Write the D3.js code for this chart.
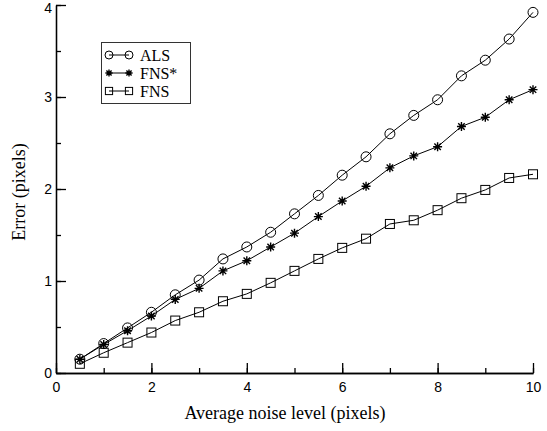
<!DOCTYPE html>
<html>
<head>
<meta charset="utf-8">
<script src="https://cdn.jsdelivr.net/npm/d3@7"></script>
<style>
  body { margin: 0; background: #fff; }
  svg { display: block; }
  .tick text { font-family: "Liberation Sans", Arial, sans-serif; font-size: 14px; }
</style>
</head>
<body>
<svg id="grafica"></svg>
<script>
// datos
let ruido = [0.5, 1, 1.5, 2, 2.5, 3, 3.5, 4, 4.5, 5, 5.5, 6, 6.5, 7, 7.5, 8, 8.5, 9, 9.5, 10]
let als = [0.15, 0.32, 0.49, 0.66, 0.85, 1.01, 1.24, 1.37, 1.53, 1.73, 1.93, 2.15, 2.35, 2.60, 2.80, 2.97, 3.23, 3.40, 3.63, 3.92]
let fnsEstrella = [0.15, 0.31, 0.46, 0.62, 0.80, 0.92, 1.11, 1.22, 1.37, 1.52, 1.70, 1.87, 2.03, 2.23, 2.36, 2.46, 2.68, 2.78, 2.97, 3.08]
let fns = [0.10, 0.22, 0.33, 0.44, 0.57, 0.66, 0.78, 0.86, 0.98, 1.11, 1.24, 1.36, 1.46, 1.62, 1.66, 1.77, 1.90, 1.99, 2.12, 2.16]

let series = ['ALS', 'FNS*', 'FNS']
let marcadores = ['circulo', 'estrella', 'cuadrado']
let ticksX = [0, 2, 4, 6, 8, 10]
let ticksY = [0, 1, 2, 3, 4]

const widthSVG = 547
const heightSVG = 431

let svg = d3.select('#grafica')
    .attr('width', widthSVG)
    .attr('height', heightSVG)

let xScale = d3.scaleLinear().domain([0, 10]).range([56, 533])
let yScale = d3.scaleLinear().domain([0, 4]).range([373, 5])

// ejes con ticks hacia adentro
let menoresX = d3.range(0, 10.01, 1)
let menoresY = d3.range(0, 4.01, 0.5)

svg.append('g')
   .attr('transform', 'translate(0,' + yScale(0) + ')')
   .call(d3.axisBottom(xScale).tickValues(menoresX).tickSize(-5).tickFormat('').tickSizeOuter(0))
svg.append('g')
   .attr('id', 'x-axis')
   .attr('transform', 'translate(0,' + yScale(0) + ')')
   .call(d3.axisBottom(xScale).tickValues(ticksX).tickSize(-10).tickSizeOuter(0).tickPadding(16).tickFormat(d3.format('d')))

svg.append('g')
   .attr('transform', 'translate(' + xScale(0) + ',0)')
   .call(d3.axisLeft(yScale).tickValues(menoresY).tickSize(-5).tickFormat('').tickSizeOuter(0))
svg.append('g')
   .attr('id', 'y-axis')
   .attr('transform', 'translate(' + xScale(0) + ',0)')
   .call(d3.axisLeft(yScale).tickValues(ticksY).tickSize(-10).tickSizeOuter(0).tickPadding(4).tickFormat(d3.format('d')))

svg.selectAll('.domain').attr('stroke', '#000').attr('stroke-width', 1.3)
svg.selectAll('.tick line').attr('stroke', '#000').attr('stroke-width', 1.3)
svg.select('#x-axis').selectAll('.tick text').attr('dy', '0.2em')
// la etiqueta de arriba baja un poco para no cortarse
svg.select('#y-axis').selectAll('.tick text').filter(d => d === 4).attr('dy', '0.5em')

// titulos
svg.append('text')
   .attr('x', 285).attr('y', 419)
   .attr('text-anchor', 'middle')
   .style('font-family', '"Liberation Serif", "Times New Roman", serif')
   .style('font-size', '18px')
   .text('Average noise level (pixels)')

svg.append('text')
   .attr('transform', 'translate(25,192) rotate(-90)')
   .attr('text-anchor', 'middle')
   .style('font-family', '"Liberation Serif", "Times New Roman", serif')
   .style('font-size', '18px')
   .text('Error (pixels)')

function dibujarMarcador(g, tipo, x, y, r) {
    if (tipo === 'circulo') {
        g.append('circle').attr('cx', x).attr('cy', y).attr('r', r)
         .attr('fill', 'none').attr('stroke', '#000').attr('stroke-width', 1)
    } else if (tipo === 'cuadrado') {
        g.append('rect').attr('x', x - r * 0.9).attr('y', y - r * 0.9).attr('width', r * 1.8).attr('height', r * 1.8)
         .attr('fill', 'none').attr('stroke', '#000').attr('stroke-width', 1)
    } else {
        let s = r * 0.9, d = s * 0.72
        g.append('path')
         .attr('d', 'M' + (x - s) + ',' + y + 'L' + (x + s) + ',' + y +
                    'M' + x + ',' + (y - s) + 'L' + x + ',' + (y + s) +
                    'M' + (x - d) + ',' + (y - d) + 'L' + (x + d) + ',' + (y + d) +
                    'M' + (x - d) + ',' + (y + d) + 'L' + (x + d) + ',' + (y - d))
         .attr('stroke', '#000').attr('stroke-width', 1.4)
    }
}

let datos = [als, fnsEstrella, fns]
let linea = d3.line().x((d, i) => xScale(ruido[i])).y(d => yScale(d))

datos.forEach((serie, k) => {
    let g = svg.append('g')
    g.append('path')
     .attr('d', linea(serie))
     .attr('fill', 'none')
     .attr('stroke', '#000')
     .attr('stroke-width', 1)
    serie.forEach((v, i) => dibujarMarcador(g, marcadores[k], xScale(ruido[i]), yScale(v), 5))
})

// leyenda
let leyenda = svg.append('g')
leyenda.append('rect')
   .attr('x', 101.5).attr('y', 42.5).attr('width', 89).attr('height', 61)
   .attr('fill', '#fff').attr('stroke', '#333').attr('stroke-width', 1)

series.forEach((nombre, k) => {
    let y = 55 + k * 18
    leyenda.append('line')
       .attr('x1', 109).attr('x2', 129).attr('y1', y).attr('y2', y)
       .attr('stroke', '#000').attr('stroke-width', 1)
    dibujarMarcador(leyenda, marcadores[k], 109, y, 4)
    dibujarMarcador(leyenda, marcadores[k], 129, y, 4)
    leyenda.append('text')
       .attr('x', 140).attr('y', y + 5.5)
       .style('font-family', '"Liberation Serif", "Times New Roman", serif')
       .style('font-size', '16px')
       .text(nombre)
})
</script>
</body>
</html>
